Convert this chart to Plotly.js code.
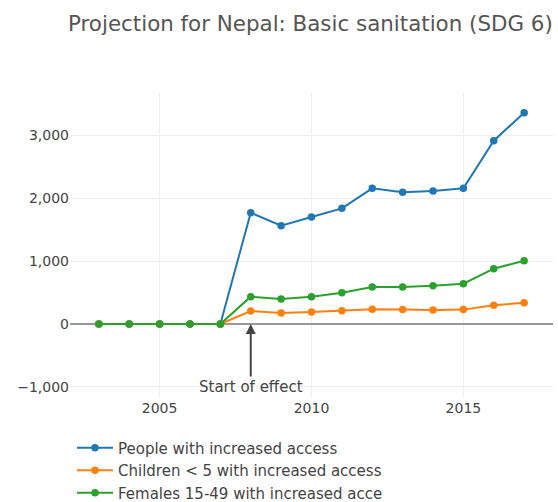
<!DOCTYPE html>
<html>
<head>
<meta charset="utf-8">
<script src="https://cdn.plot.ly/plotly-3.0.1.min.js"></script>
<style>html,body{margin:0;padding:0;background:#fff;}#chart{width:558px;height:502px;}</style>
</head>
<body>
<div id="chart"></div>
<script>
const years = [2003, 2004, 2005, 2006, 2007, 2008, 2009, 2010, 2011, 2012, 2013, 2014, 2015, 2016, 2017];
const people = [0, 0, 0, 0, 0, 1767, 1560, 1698, 1836, 2153, 2090, 2111, 2153, 2910, 3354];
const children = [0, 0, 0, 0, 0, 206, 175, 190, 212, 233, 228, 222, 228, 296, 339];
const females = [0, 0, 0, 0, 0, 434, 397, 434, 497, 587, 587, 608, 640, 878, 1005];
const seriesNames = ["People with increased access", "Children < 5 with increased access", "Females 15-49 with increased access"];
const titleText = "Projection for Nepal: Basic sanitation (SDG 6)";
const annotationText = "Start of effect";
const effectYear = 2008;

const colors = ["#1f77b4", "#ff7f0e", "#2ca02c"];
const FONT = "DejaVu Sans, Verdana, sans-serif";

const traces = [people, children, females].map((vals, i) => ({
  x: years, y: vals, name: seriesNames[i], type: "scatter", mode: "lines+markers",
  line: {color: colors[i], width: 2}, marker: {color: colors[i], size: 7.5}
}));

const layout = {
  width: 558, height: 502,
  margin: {l: 70, r: 5, t: 93, b: 104, autoexpand: false},
  paper_bgcolor: "#fff", plot_bgcolor: "#fff",
  font: {family: FONT, size: 14, color: "#444"},
  title: {text: titleText, font: {family: FONT, size: 21.4, color: "#555"},
          xref: "container", x: 68/558, xanchor: "left", y: 1 - 24/502, yanchor: "middle"},
  xaxis: {range: [2002.05, 2017.95], showgrid: true, gridcolor: "#eee", zeroline: false,
          tickvals: [2005, 2010, 2015], ticks: "", tickfont: {size: 14, color: "#444"}},
  yaxis: {range: [-1175, 3667], showgrid: true, gridcolor: "#eee", zeroline: true,
          zerolinecolor: "#999", zerolinewidth: 2, tickformat: ",d", dtick: 1000,
          tickfont: {size: 14, color: "#444"}},
  showlegend: true,
  legend: {orientation: "v", x: 2/483, xanchor: "left", y: -0.11, yanchor: "top",
           font: {size: 15, color: "#444"}, tracegroupgap: 0, itemwidth: 36},
  annotations: [{x: effectYear, y: 0, xref: "x", yref: "y", text: annotationText,
                 showarrow: true, arrowhead: 2, arrowsize: 1, arrowwidth: 2, arrowcolor: "#444",
                 ax: 0, ay: 63, font: {size: 15, color: "#444"}}]
};

Plotly.newPlot("chart", traces, layout, {displayModeBar: false, responsive: false}).then(gd => {
  // reproduce the reference's clipped legend box (right edge at x = 382)
  const leg = gd.querySelector("g.legend");
  if (!leg) return;
  const sb = leg.querySelector(".scrollbox");
  const cp = sb && (sb.getAttribute("clip-path") || sb.style.clipPath);
  const m = cp && cp.match(/#([^)"']+)/);
  if (!m) return;
  const rect = document.getElementById(m[1]) && document.getElementById(m[1]).querySelector("rect");
  if (!rect) return;
  const left = leg.getBoundingClientRect().left - gd.getBoundingClientRect().left;
  rect.setAttribute("width", Math.max(0, 382 - left));
});
</script>
</body>
</html>
